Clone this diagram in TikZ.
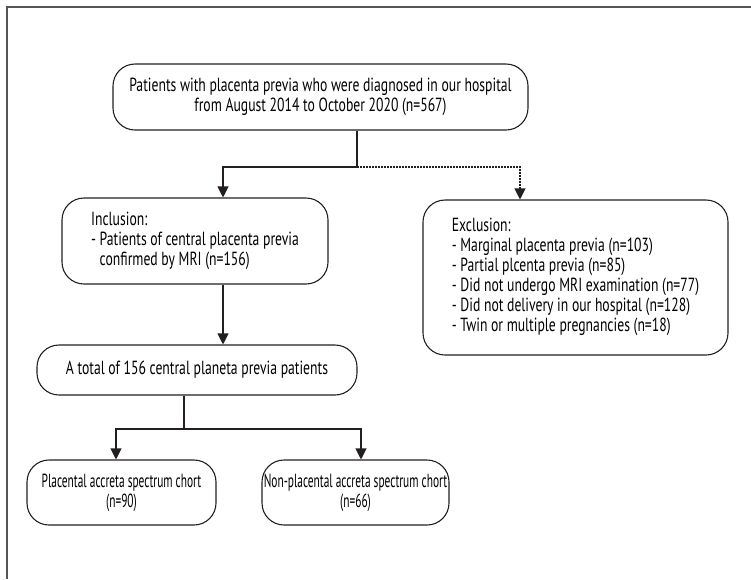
\documentclass[tikz,border=0pt]{standalone}
\usepackage{fontspec}
\setmainfont[FakeStretch=0.72]{PT Sans}
\usetikzlibrary{arrows.meta}
\definecolor{lineGray}{HTML}{231F20}
\definecolor{frameGray}{HTML}{555555}
\tikzset{
	flowbox/.style={draw=lineGray, line width=1.1pt, rounded corners=22pt, align=center, inner sep=0pt},
	narrowbox/.style={flowbox, font=\fontsize{19}{20}\selectfont\addfontfeature{FakeStretch=0.6}},
	flowline/.style={draw=lineGray, line width=1.1pt},
	flowarrow/.style={flowline, -{Triangle[length=11pt,width=11pt]}},
}
\def\hang{\phantom{- }}

\begin{document}
\begin{tikzpicture}[x=1pt,y=-1pt,font=\fontsize{19}{20}\selectfont]
	\useasboundingbox (0,0) rectangle (751,579);
	\draw[frameGray, line width=1.2pt] (751,7) -- (7,7) -- (7,579);
	\node[flowbox, minimum width=415pt, minimum height=66pt] (source) at (320.5,97)
		{Patients with placenta previa who were diagnosed in our hospital\\from August 2014 to October 2020 (n=567)};
	\node[flowbox, minimum width=266pt, minimum height=86pt] (incl) at (195,241)
		{\begin{tabular}{@{}l@{}}Inclusion:\\- Patients of central placenta previa\\\hang confirmed by MRI (n=156)\end{tabular}};
	\node[flowbox, minimum width=305pt, minimum height=155pt] (excl) at (575.5,277.5)
		{\begin{tabular}{@{}l@{}}Exclusion:\\- Marginal placenta previa (n=103)\\- Partial plcenta previa (n=85)\\- Did not undergo MRI examination (n=77)\\- Did not delivery in our hospital (n=128)\\- Twin or multiple pregnancies (n=18)\end{tabular}};
	\node[flowbox, minimum width=320pt, minimum height=50pt] (total) at (197,370)
		{A total of 156 central planeta previa patients};
	\node[narrowbox, minimum width=189pt, minimum height=65pt] (pas) at (121.5,492.5)
		{Placental accreta spectrum chort\\(n=90)};
	\node[narrowbox, minimum width=187pt, minimum height=65pt] (nonpas) at (355.5,492.5)
		{Non-placental accreta spectrum chort\\(n=66)};

	\coordinate (split) at (357,167);
	\coordinate (inArrow) at (223,0);
	\coordinate (exArrow) at (520,0);
	\coordinate (split2) at (184,429);
	\coordinate (pasArrow) at (116,0);
	\coordinate (nonArrow) at (361,0);

	\draw[flowline] (source.south -| split) -- (split);
	\draw[flowarrow] (split) -| (incl.north -| inArrow);
	\draw[flowarrow, dash pattern=on 1.5pt off 1.5pt] (split) -| (excl.north -| exArrow);
	\draw[flowarrow] (incl.south -| inArrow) -- (total.north -| inArrow);
	\draw[flowline] (total.south -| split2) -- (split2);
	\draw[flowarrow] (split2) -| (pas.north -| pasArrow);
	\draw[flowarrow] (split2) -| (nonpas.north -| nonArrow);
\end{tikzpicture}
\end{document}
